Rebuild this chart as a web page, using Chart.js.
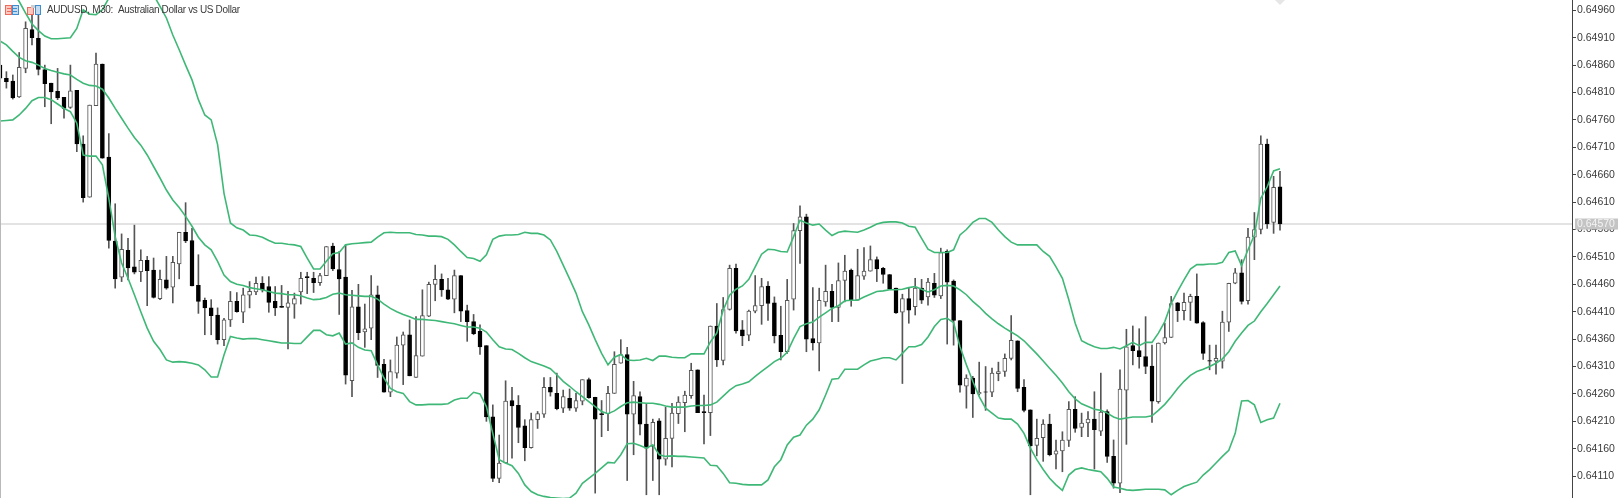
<!DOCTYPE html>
<html lang="en">
<head>
<meta charset="UTF-8">
<title>AUDUSD, M30</title>
<style>
  html, body { margin: 0; padding: 0; background: #fff; overflow: hidden; }
  canvas { display: block; }
</style>
</head>
<body>
<canvas id="myChart" width="1623" height="498"></canvas>
<script src="https://cdn.jsdelivr.net/npm/chart.js"></script>
<script>
// prices are kept in points (1 point = 0.00001)
const opens = [
  64860,64836,64831,64802,64854,64925,64909,64852,64827,64812,
  64801,64783,64814,64716,64619,64786,64862,64692,64539,64473,
  64522,64492,64483,64504,64486,64434,64468,64455,64497,64555,
  64540,64458,64431,64417,64404,64359,64395,64429,64409,64440,
  64446,64462,64456,64429,64420,64418,64424,64446,64474,64471,
  64463,64476,64530,64487,64473,64284,64419,64373,64380,64441,
  64314,64263,64298,64349,64368,64290,64329,64402,64460,64469,
  64450,64433,64476,64412,64392,64374,64348,64218,64106,64134,
  64248,64239,64202,64162,64213,64223,64272,64261,64234,64252,
  64234,64247,64286,64254,64224,64224,64261,64316,64332,64223,
  64255,64205,64164,64211,64141,64179,64224,64244,64257,64304,
  64228,64226,64384,64321,64414,64489,64377,64367,64411,64421,
  64457,64426,64367,64337,64433,64558,64583,64361,64353,64428,
  64447,64418,64467,64486,64431,64475,64484,64505,64489,64478,
  64453,64409,64434,64419,64453,64437,64462,64439,64520,64466,
  64394,64274,64289,64260,64264,64263,64297,64301,64325,64357,
  64272,64231,64166,64180,64205,64150,64156,64175,64232,64199,
  64207,64214,64192,64228,64146,64097,64267,64348,64339,64328,
  64311,64246,64353,64363,64426,64412,64427,64438,64390,64321,
  64320,64320,64391,64462,64481,64430,64546,64560,64716,64573,64638
];
const highs = [
  64863,64848,64842,64883,64939,64951,64958,64860,64827,64854,
  64801,64860,64814,64731,64787,64882,64862,64735,64607,64552,
  64544,64568,64523,64511,64508,64486,64511,64511,64555,64609,
  64562,64514,64435,64432,64417,64398,64447,64445,64453,64465,
  64473,64474,64474,64456,64458,64447,64444,64482,64482,64482,
  64480,64529,64535,64520,64532,64449,64460,64424,64476,64457,
  64323,64322,64364,64373,64395,64401,64450,64464,64495,64479,
  64471,64486,64476,64422,64405,64386,64348,64240,64185,64284,
  64272,64257,64213,64225,64228,64290,64290,64298,64267,64269,
  64261,64286,64289,64254,64248,64274,64337,64359,64345,64283,
  64264,64242,64214,64215,64236,64243,64255,64265,64316,64304,
  64258,64384,64425,64436,64495,64497,64394,64413,64476,64471,
  64465,64437,64420,64469,64571,64603,64588,64454,64453,64495,
  64460,64499,64513,64488,64524,64527,64530,64510,64491,64478,
  64453,64442,64453,64471,64469,64471,64480,64526,64523,64468,
  64394,64295,64292,64318,64310,64307,64318,64333,64403,64357,
  64286,64231,64214,64213,64223,64176,64191,64246,64255,64225,
  64228,64264,64298,64231,64176,64304,64378,64384,64379,64401,
  64349,64353,64389,64438,64427,64444,64442,64479,64392,64349,
  64349,64411,64462,64489,64505,64562,64591,64731,64725,64657,64666
];
const lows = [
  64833,64818,64798,64801,64846,64897,64842,64784,64753,64797,
  64763,64781,64702,64610,64619,64786,64690,64526,64453,64465,
  64468,64479,64465,64421,64435,64432,64451,64426,64470,64536,
  64457,64407,64368,64368,64351,64348,64383,64409,64390,64417,
  64441,64446,64409,64403,64418,64342,64398,64424,64443,64445,
  64458,64476,64485,64405,64278,64255,64359,64345,64359,64290,
  64263,64255,64289,64277,64293,64290,64329,64401,64430,64438,
  64432,64408,64392,64356,64368,64332,64210,64100,64098,64134,
  64143,64171,64138,64161,64197,64217,64256,64231,64226,64230,
  64228,64240,64252,64079,64182,64193,64261,64316,64102,64149,
  64185,64076,64102,64076,64130,64127,64206,64191,64252,64226,
  64169,64184,64310,64313,64413,64371,64348,64357,64408,64387,
  64394,64353,64322,64334,64413,64498,64337,64340,64302,64420,
  64392,64392,64428,64420,64431,64469,64484,64465,64462,64451,
  64407,64279,64389,64404,64425,64422,64436,64434,64351,64349,
  64263,64234,64217,64258,64230,64255,64284,64292,64322,64264,
  64227,64076,64147,64137,64147,64123,64118,64164,64190,64182,
  64182,64123,64184,64135,64088,64080,64168,64313,64307,64297,
  64208,64243,64351,64363,64392,64395,64394,64389,64323,64304,
  64296,64307,64374,64461,64424,64424,64505,64552,64562,64553,64559
];
const closes = [
  64836,64830,64800,64856,64927,64910,64852,64826,64811,64800,
  64781,64813,64716,64618,64787,64862,64690,64540,64470,64524,
  64490,64482,64504,64485,64436,64469,64453,64500,64555,64539,
  64457,64429,64417,64403,64359,64395,64429,64410,64441,64447,
  64462,64450,64427,64417,64418,64426,64434,64471,64472,64463,
  64476,64529,64488,64470,64294,64419,64372,64379,64441,64312,
  64263,64301,64349,64368,64293,64330,64403,64460,64469,64450,
  64433,64476,64411,64392,64370,64346,64218,64106,64134,64247,
  64238,64199,64162,64213,64224,64272,64263,64233,64255,64234,
  64248,64286,64253,64214,64222,64261,64314,64332,64223,64257,
  64205,64161,64208,64141,64179,64225,64245,64258,64303,64226,
  64226,64384,64322,64414,64489,64375,64366,64411,64421,64456,
  64425,64366,64337,64431,64558,64583,64360,64353,64431,64447,
  64418,64467,64484,64431,64476,64484,64505,64488,64478,64451,
  64408,64434,64413,64453,64431,64464,64440,64518,64464,64394,
  64276,64289,64260,64263,64263,64298,64301,64325,64358,64270,
  64230,64165,64179,64205,64149,64156,64176,64232,64197,64207,
  64214,64195,64227,64146,64097,64269,64346,64339,64328,64310,
  64247,64353,64363,64425,64412,64427,64438,64389,64334,64320,
  64325,64391,64462,64481,64429,64546,64560,64716,64570,64637,64570
];
const upperBand = [
  65022,65009,64994,64976,64955,64935,64923,64913,64908,64908,
  64909,64910,64927,64961,64953,64952,64961,64982,65009,65034,
  65052,65052,65040,65015,64988,64967,64946,64915,64888,64860,
  64833,64797,64769,64760,64715,64626,64572,64563,64559,64550,
  64549,64546,64540,64535,64535,64533,64532,64529,64508,64488,
  64488,64502,64516,64518,64532,64534,64535,64536,64537,64546,
  64554,64555,64554,64554,64554,64551,64550,64548,64548,64547,
  64542,64532,64520,64509,64507,64502,64514,64542,64548,64550,
  64550,64551,64555,64553,64553,64550,64541,64520,64495,64470,
  64444,64410,64386,64359,64334,64313,64327,64332,64322,64321,
  64322,64325,64321,64329,64329,64327,64326,64326,64333,64333,
  64333,64355,64371,64413,64440,64451,64457,64469,64492,64515,
  64524,64523,64520,64519,64547,64577,64572,64568,64570,64559,
  64549,64555,64557,64556,64555,64559,64564,64570,64573,64574,
  64574,64572,64566,64564,64544,64524,64518,64518,64518,64523,
  64550,64560,64573,64580,64580,64573,64559,64547,64537,64532,
  64532,64532,64532,64520,64511,64492,64471,64432,64389,64357,
  64351,64346,64343,64343,64345,64342,64348,64354,64348,64354,
  64354,64371,64392,64425,64447,64468,64488,64496,64496,64497,
  64497,64500,64518,64521,64494,64523,64550,64617,64638,64667,64671
];
const middleBand = [
  64904,64897,64885,64874,64868,64865,64860,64854,64850,64847,
  64844,64842,64834,64827,64823,64822,64816,64800,64781,64763,
  64745,64728,64714,64696,64675,64654,64632,64614,64600,64584,
  64566,64546,64532,64523,64502,64477,64465,64460,64458,64454,
  64452,64450,64447,64444,64443,64441,64441,64439,64435,64432,
  64433,64436,64442,64444,64441,64440,64439,64438,64438,64433,
  64424,64416,64410,64405,64401,64396,64396,64395,64394,64392,
  64390,64388,64385,64382,64382,64380,64373,64359,64346,64342,
  64341,64334,64326,64319,64315,64311,64306,64295,64283,64274,
  64264,64255,64246,64237,64228,64224,64229,64237,64244,64245,
  64244,64243,64243,64241,64238,64236,64236,64236,64238,64239,
  64239,64240,64245,64256,64267,64275,64278,64282,64292,64301,
  64310,64319,64325,64336,64361,64383,64388,64391,64400,64408,
  64416,64421,64430,64431,64431,64437,64442,64447,64448,64450,
  64450,64451,64454,64456,64451,64446,64450,64457,64458,64457,
  64450,64441,64429,64419,64407,64397,64388,64380,64373,64366,
  64357,64345,64333,64320,64307,64294,64280,64264,64251,64242,
  64237,64232,64230,64225,64218,64214,64216,64218,64218,64218,
  64220,64230,64241,64255,64270,64283,64294,64301,64305,64310,
  64316,64324,64337,64356,64371,64385,64393,64410,64425,64441,64457
];
const lowerBand = [
  64758,64759,64760,64769,64781,64795,64801,64801,64797,64789,
  64781,64775,64754,64696,64694,64694,64678,64617,64547,64499,
  64471,64441,64410,64380,64356,64341,64322,64318,64319,64318,
  64316,64313,64304,64291,64291,64331,64365,64362,64360,64361,
  64361,64359,64357,64355,64353,64353,64352,64352,64364,64376,
  64376,64368,64366,64371,64351,64353,64345,64340,64339,64313,
  64289,64270,64264,64261,64246,64240,64240,64241,64241,64241,
  64242,64249,64252,64252,64263,64260,64237,64188,64140,64134,
  64129,64115,64094,64082,64076,64073,64071,64070,64069,64070,
  64079,64097,64106,64115,64125,64135,64134,64149,64169,64170,
  64166,64161,64167,64149,64146,64147,64146,64146,64145,64144,
  64143,64130,64129,64115,64098,64097,64095,64094,64094,64094,
  64103,64127,64140,64167,64181,64185,64203,64214,64231,64258,
  64287,64288,64305,64305,64305,64313,64320,64323,64326,64326,
  64322,64334,64346,64346,64350,64364,64383,64396,64398,64390,
  64346,64313,64283,64255,64234,64225,64216,64214,64214,64205,
  64188,64161,64140,64122,64106,64094,64084,64112,64122,64125,
  64122,64120,64118,64106,64090,64088,64085,64084,64085,64086,
  64086,64086,64085,64076,64084,64091,64095,64099,64112,64122,
  64134,64146,64157,64188,64247,64248,64240,64208,64213,64216,64243
];
const tickLabels = ['0.64960','0.64910','0.64860','0.64810','0.64760','0.64710','0.64660','0.64610','0.64560','0.64510','0.64460','0.64410','0.64360','0.64310','0.64260','0.64210','0.64160','0.64110'];
const bidPrice = 0.64570;
const symbolTitle = 'AUDUSD, M30:  Australian Dollar vs US Dollar';

const price = p => p / 100000;
const xMax = 245.625; // empty room right of the last bar, up to the price axis

const wicks = highs.map((h, i) => ({ x: i, y: [price(lows[i]), price(h)] }));
const bodies = opens.map((o, i) => ({ x: i, y: [price(Math.min(o, closes[i])), price(Math.max(o, closes[i]))] }));
const band = arr => arr.map((v, i) => ({ x: i, y: price(v) }));

const bandStyle = {
  type: 'line', borderColor: '#3fb877', borderWidth: 1.6, pointRadius: 0, tension: 0, order: 1
};

// everything that is not a series: left edge, toolbar icons, title and the bid tag
const overlay = {
  id: 'overlay',
  afterDraw(chart) {
    const c = chart.ctx;
    const y = chart.scales.y.getPixelForValue(bidPrice);
    c.save();
    c.fillStyle = '#b9b9b9';
    c.fillRect(0, 0, 1, 498);

    // chart shift marker
    c.fillStyle = '#e6e6e6';
    c.beginPath(); c.moveTo(1275, 0); c.lineTo(1285, 0); c.lineTo(1280, 5); c.fill();

    // first icon
    c.fillStyle = '#fbc9c0'; c.fillRect(5, 5, 7, 10);
    c.fillStyle = '#c5dcf0'; c.fillRect(12, 5, 7, 10);
    c.strokeStyle = '#ee6a5c'; c.strokeRect(5.5, 5.5, 6, 9);
    c.strokeStyle = '#3f8fd0'; c.strokeRect(12.5, 5.5, 6, 9);
    c.fillStyle = '#ee6a5c'; c.fillRect(7, 8, 4, 1); c.fillRect(7, 11, 4, 1);
    c.fillStyle = '#3f8fd0'; c.fillRect(13, 8, 4, 1); c.fillRect(13, 11, 4, 1);
    // second icon
    c.fillStyle = '#fbc9c0'; c.fillRect(27, 7, 6, 8);
    c.strokeStyle = '#ee6a5c'; c.strokeRect(27.5, 7.5, 6, 7);
    c.fillStyle = '#cfcfcf'; c.fillRect(31, 5, 5, 3);
    c.fillStyle = '#c5dcf0'; c.fillRect(35, 6, 5, 9);
    c.strokeStyle = '#3f8fd0'; c.strokeRect(35.5, 5.5, 5, 9);

    c.fillStyle = '#3a3a3a';
    c.font = '10px "Liberation Sans"';
    c.letterSpacing = '-0.33px';
    c.textBaseline = 'middle';
    c.textAlign = 'left';
    c.fillText(symbolTitle, 47, 10.5);
    c.letterSpacing = '0px';

    c.fillStyle = '#c4c4c4';
    c.fillRect(1575, y - 5.5, 43, 11);
    c.fillStyle = '#f4f4f4';
    c.font = '10.5px "Liberation Sans"';
    c.fillText(bidPrice.toFixed(5), 1577, y + 0.5);
    c.restore();
  }
};

new Chart(document.getElementById('myChart'), {
  type: 'bar',
  data: {
    datasets: [
      { ...bandStyle, label: 'Upper', data: band(upperBand) },
      { ...bandStyle, label: 'Middle', data: band(middleBand) },
      { ...bandStyle, label: 'Lower', data: band(lowerBand) },
      {
        label: 'Body', data: bodies, order: 2, grouped: false, barThickness: 4,
        borderWidth: 1, borderSkipped: false,
        borderColor: ctx => closes[ctx.dataIndex] >= opens[ctx.dataIndex] ? '#555' : '#000',
        backgroundColor: ctx => closes[ctx.dataIndex] >= opens[ctx.dataIndex] ? '#fff' : '#000'
      },
      {
        label: 'Wick', data: wicks, order: 3, grouped: false, barThickness: 1,
        borderWidth: 0, backgroundColor: '#555'
      },
      {
        type: 'line', label: 'Bid', order: 4, pointRadius: 0, borderWidth: 2, borderColor: '#e3e3e3',
        data: [{ x: 0, y: bidPrice }, { x: xMax, y: bidPrice }]
      }
    ]
  },
  options: {
    responsive: false,
    animation: false,
    events: [],
    layout: { padding: 0, autoPadding: false },
    plugins: { legend: { display: false }, title: { display: false }, tooltip: { enabled: false } },
    scales: {
      x: { type: 'linear', min: 0, max: xMax, display: false, offset: false, grid: { offset: false } },
      y: {
        position: 'right',
        offset: false,
        min: 0.640701,
        max: 0.649788,
        afterBuildTicks: s => { s.ticks = tickLabels.map(t => ({ value: parseFloat(t) })); },
        afterFit: s => {
          s.width = 51;
          // plot runs the full height of the canvas, no room kept for the end labels
          s.paddingTop = 0;
          s.paddingBottom = 0;
        },
        border: { display: true, color: '#444', width: 1 },
        grid: { drawOnChartArea: false, drawTicks: true, tickLength: 4, color: '#444', offset: false },
        ticks: {
          autoSkip: false, padding: 1, color: '#3a3a3a',
          font: { family: '"Liberation Sans"', size: 10.5 },
          callback: v => v.toFixed(5)
        }
      }
    }
  },
  plugins: [overlay]
});
</script>
</body>
</html>
